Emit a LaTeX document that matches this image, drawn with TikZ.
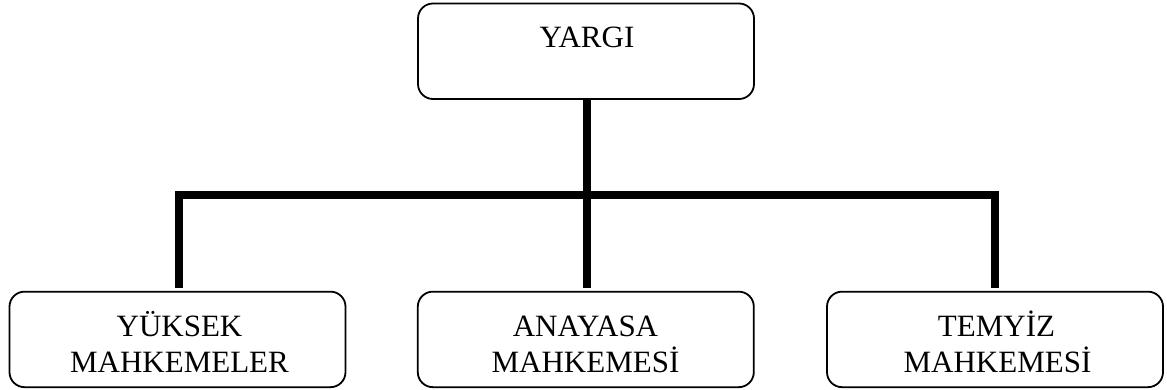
\documentclass[tikz,border=0pt]{standalone}
\usepackage{fontspec}
\setmainfont{Liberation Serif}
\begin{document}
\begin{tikzpicture}[x=1pt,y=-1pt,
  box/.style={draw=black,line width=1.8pt,rounded corners=15pt,rectangle,inner sep=0pt,
    minimum width=336pt,minimum height=95.5pt},
  lbl/.style={anchor=base,inner sep=0pt,font=\fontsize{31}{37}\selectfont},
  conn/.style={draw=black,line width=8pt,line join=miter,line cap=butt}]
\useasboundingbox (0,0) rectangle (1167,389);
% boxes
\node[box] (top) at (586,51.25) {};
\node[box] (lb) at (177.5,339.4) {};
\node[box] (mb) at (585.8,339.4) {};
\node[box] (rb) at (995,339.4) {};
% texts
\node[lbl] (ttop) at (587,47.3) {YARGI};
\node[lbl] (tl1) at (179.5,336) {YÜKSEK};
\node[lbl] (tl2) at (179.5,372.7) {MAHKEMELER};
\node[lbl] (tm1) at (585.5,336) {ANAYASA};
\node[lbl] (tm2) at (585.5,372.7) {MAHKEMESİ};
\node[lbl] (tr1) at (996.5,336) {TEMYİZ};
\node[lbl] (tr2) at (997.5,372.7) {MAHKEMESİ};
% connectors
\coordinate (bus) at (586.7,195.2);
\coordinate (lend) at ([xshift=1.2pt,yshift=2.7pt]lb.north);
\coordinate (rend) at ([yshift=2.7pt]rb.north);
\coordinate (mend) at ([yshift=2.7pt]mb.north);
\draw[conn] (lend) |- (bus) -| (rend);
\draw[conn] ([xshift=0.7pt]top.south) -- (bus);
\draw[conn] (bus) -- (bus |- mend);
\end{tikzpicture}
\end{document}
